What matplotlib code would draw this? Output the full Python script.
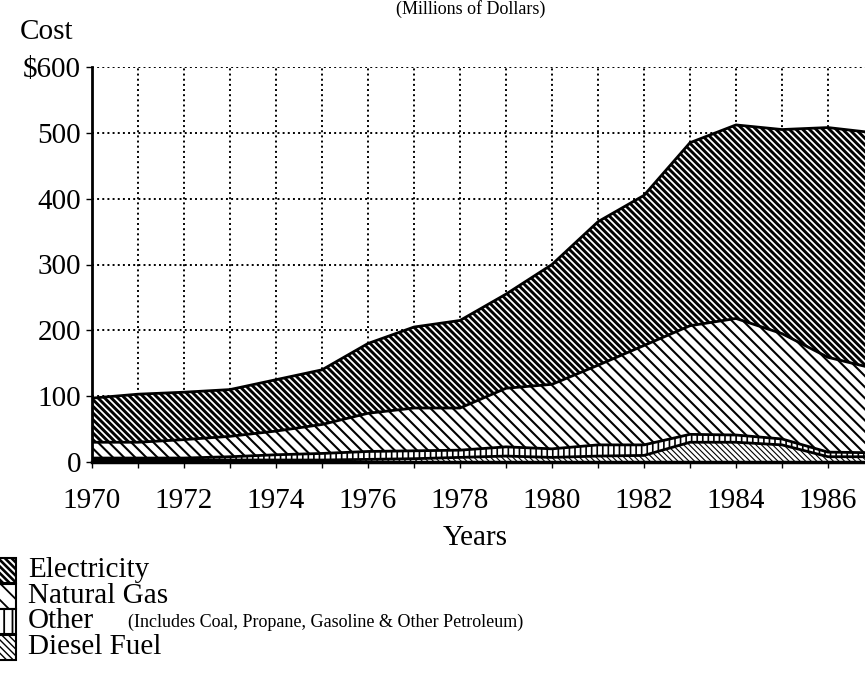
import numpy as np
import matplotlib.pyplot as plt
from matplotlib.patches import Rectangle

plt.rcParams['font.family'] = ['Liberation Serif', 'DejaVu Serif']

# Costo anual por fuente de energia (millones de dolares), acumulado
years = np.arange(1970, 1988)
diesel = [3, 3, 3, 3, 3, 3, 4, 5, 7, 9, 7, 9, 10, 30, 30, 26, 8, 8]
other = [3, 3, 3, 5, 8, 10, 12, 12, 11, 14, 13, 17, 16, 12, 11, 9, 7, 6]
natural_gas = [24, 24, 28, 31, 36, 44, 58, 65, 64, 89, 98, 121, 151, 165, 177, 160, 144, 128]
electricity = [67, 73, 72, 71, 78, 83, 106, 123, 133, 143, 182, 218, 228, 278, 294, 310, 349, 358]

series = [
    ('Diesel Fuel', diesel, '\\' * 6, 0.8),
    ('Other', other, '|||', 1.2),
    ('Natural Gas', natural_gas, '\\' * 3, 1.5),
    ('Electricity', electricity, '\\' * 5, 2.1),
]

fig = plt.figure(figsize=(8.65, 6.79), dpi=100)
ax = fig.add_axes([92 / 865, 217 / 679, 782 / 865, 395 / 679])

base = np.zeros(len(years))
for name, vals, hatch, hlw in series:
    top = base + np.array(vals)
    with plt.rc_context({'hatch.linewidth': hlw}):
        ax.fill_between(years, base, top, facecolor='white', edgecolor='black',
                        hatch=hatch, linewidth=0, zorder=2)
    ax.plot(years, top, color='black', lw=2, zorder=3)
    base = top

ax.set_xlim(1970, 1987)
ax.set_ylim(0, 600)
ax.set_xticks(np.arange(1970, 1988, 1), minor=True)
ax.set_xticks(np.arange(1970, 1987, 2))
ax.set_yticks(np.arange(0, 601, 100))
ax.set_yticklabels(['0', '100', '200', '300', '400', '500', '$600'])
ax.grid(True, which='both', axis='x', color='black', ls=':', lw=1.4, zorder=0)
ax.grid(True, which='major', axis='y', color='black', ls=':', lw=1.4, zorder=0)
ax.set_axisbelow(True)

for s in ['top', 'right']:
    ax.spines[s].set_visible(False)
ax.spines['left'].set_linewidth(2)
ax.spines['bottom'].set_linewidth(2.5)
ax.tick_params(axis='both', which='both', labelsize=21, length=4, width=1)
ax.tick_params(axis='x', which='major', pad=15)
ax.tick_params(axis='y', pad=4)

fig.text(20 / 865, 1 - 32 / 679, 'Cost', fontsize=21, va='center', ha='left')
fig.text(471 / 865, 1 - 9 / 679, '(Millions of Dollars)', fontsize=13, ha='center', va='center')
fig.text(475 / 865, 1 - 538 / 679, 'Years', fontsize=21, ha='center', va='center')

# leyenda manual
legend_rows = [
    ('Electricity', '\\' * 5, 1.9, 570),
    ('Natural Gas', '\\' * 2, 1.3, 596),
    ('Other', '||', 1.3, 621),
    ('Diesel Fuel', '\\' * 5, 1.0, 647),
]
for name, hatch, hlw, yc in legend_rows:
    with plt.rc_context({'hatch.linewidth': hlw}):
        fig.patches.append(Rectangle((-6 / 865, 1 - (yc + 13) / 679), 22 / 865, 25 / 679,
                                     transform=fig.transFigure, facecolor='white',
                                     edgecolor='black', hatch=hatch, lw=1.5))
    fig.text(28 / 865, 1 - yc / 679, name, fontsize=21, va='center', ha='left')

fig.text(128 / 865, 1 - 622 / 679, '(Includes Coal, Propane, Gasoline & Other Petroleum)',
         fontsize=13, va='center', ha='left')

fig.savefig('out.png', dpi=100)
